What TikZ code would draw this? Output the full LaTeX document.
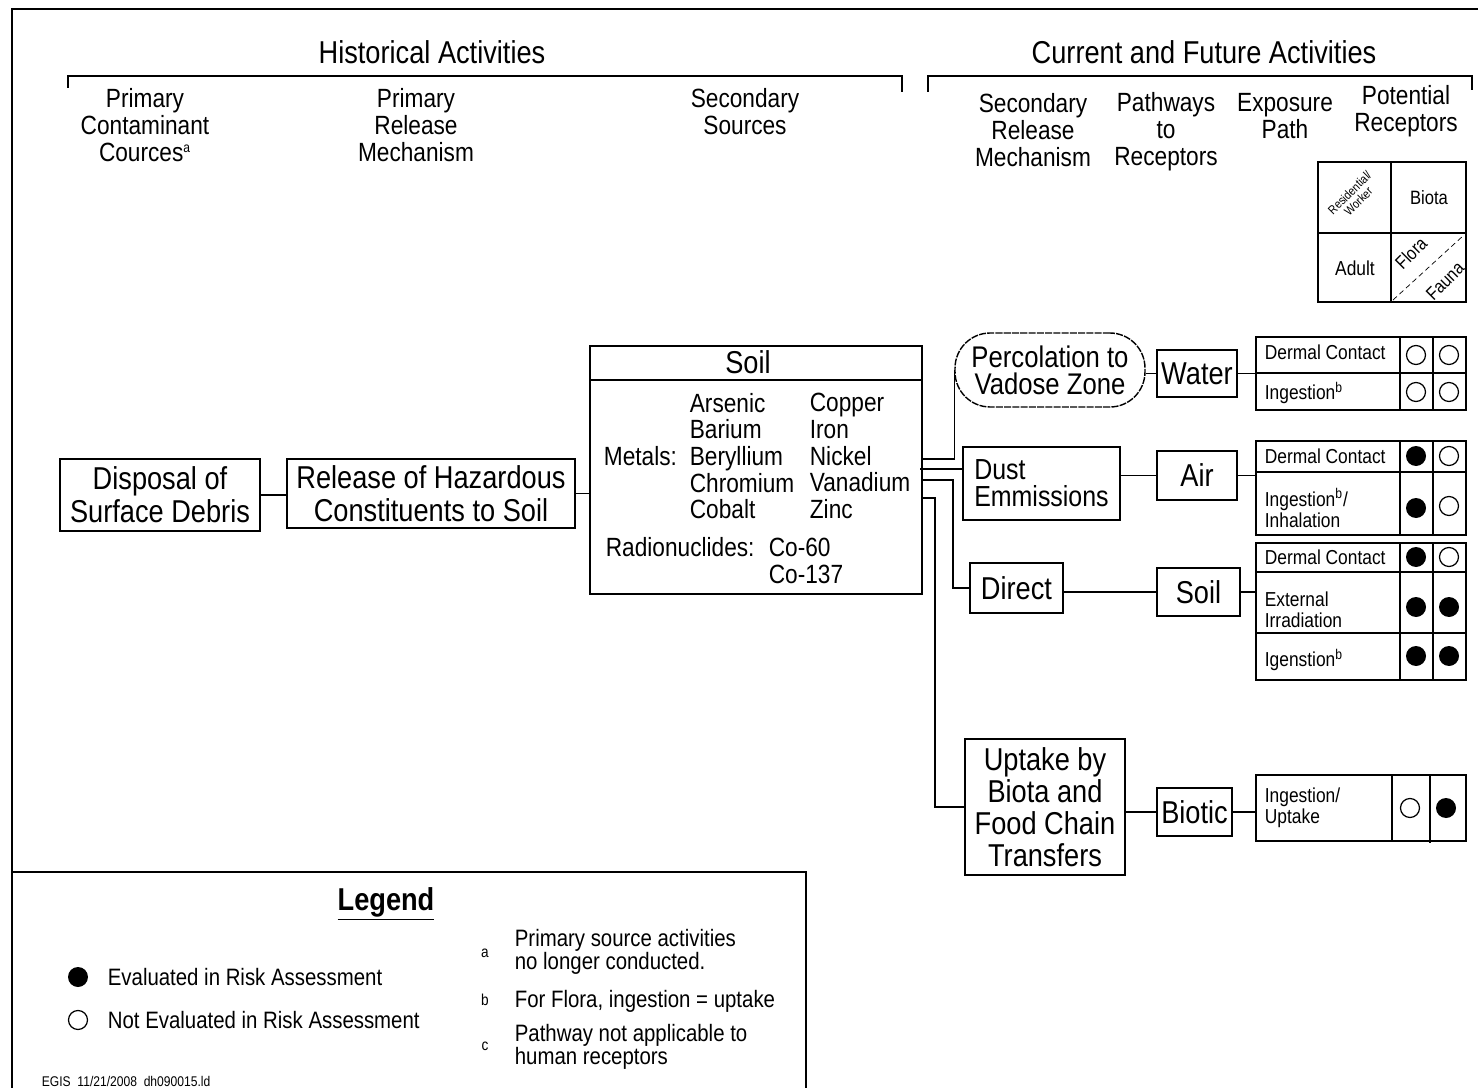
\documentclass[tikz,border=0pt]{standalone}
\usepackage{fontspec}
\setmainfont{Liberation Sans}[FakeStretch=0.86]
\usetikzlibrary{positioning}

\begin{document}
\begin{tikzpicture}[
  x=0.02cm, y=-0.02cm,
  every node/.style={inner sep=2pt},
  box/.style={draw, line width=0.9pt, align=center, font=\fontsize{18}{18.7}\selectfont},
  tabbox/.style={draw, line width=0.9pt, inner sep=0pt},
  hdr/.style={align=center, font=\fontsize{15}{15.3}\selectfont},
  big/.style={font=\fontsize{18}{19}\selectfont},
  list/.style={anchor=west, align=left, font=\fontsize{15}{15.2}\selectfont},
  cell/.style={anchor=west, align=left, font=\fontsize{11.5}{12}\selectfont},
  lgd/.style={anchor=west, align=left, font=\fontsize{13.5}{13}\selectfont},
  keytext/.style={inner sep=0pt, font=\fontsize{10.5}{10.5}\selectfont},
  link/.style={line width=0.9pt},
]
\useasboundingbox (0,0) rectangle (1478,1088);

%% Frame and legend box
\draw[line width=1.1pt] (12,1088) -- (12,9) -- (1478,9);
\draw[line width=1.1pt] (12,872) -- (806,872) -- (806,1088);

%% Section brackets
\draw[link] (68,88) -- (68,76) -- (902,76) -- (902,92);
\draw[link] (928,92) -- (928,76) -- (1472,76) -- (1472,90);
\node[big] (hist) at (432,52) {Historical Activities};
\node[big] (curr) at (1204,52) {Current and Future Activities};

%% Column headings
\node[hdr] (hpcs) at (145,125) {Primary\\Contaminant\\Cources\textsuperscript{\footnotesize a}};
\node[hdr] (hprm) at (416,125) {Primary\\Release\\Mechanism};
\node[hdr] (hss)  at (745,112) {Secondary\\Sources};
\node[hdr] (hsrm) at (1033,130) {Secondary\\Release\\Mechanism};
\node[hdr] (hptr) at (1166,132) {Pathways\\to\\Receptors};
\node[hdr] (hexp) at (1285,116) {Exposure\\Path};
\node[hdr] (hrec) at (1406,111) {Potential\\Receptors};

%% Receptor key
\node[tabbox, minimum width=2.96cm, minimum height=2.8cm] (key) at (1392,232) {};
\draw[link] (1391,162) -- (1391,302);
\draw[link] (1318,233) -- (1466,233);
\node[keytext, rotate=45, align=center, font=\fontsize{7}{7}\selectfont] (kres) at (1354,197) {Residential/\\Worker};
\node[keytext, font=\fontsize{11}{11}\selectfont] (kbio) at (1429,198) {Biota};
\node[keytext, font=\fontsize{11.5}{11.5}\selectfont] (kadu) at (1355,268) {Adult};
\draw[densely dashed, thin] (1393,300) -- (1464,235);
\node[keytext, rotate=45] (kflo) at (1411,253) {Flora};
\node[keytext, rotate=45] (kfau) at (1445,281) {Fauna};

%% Historical chain
\node[box, minimum width=4cm, minimum height=1.44cm] (disposal) at (160,495) {Disposal of\\Surface Debris};
\node[box, minimum width=5.76cm, minimum height=1.38cm] (release) at (431,493.5) {Release of Hazardous\\Constituents to Soil};
\node[box, minimum width=6.64cm, minimum height=4.96cm] (soilbox) at (756,470) {};
\draw[link] (590,380) -- (922,380);
\node[big] (soiltitle) at (748,362) {Soil};
\node[list] (metals) at (600,456) {Metals:};
\node[list] (meta) at (686,456) {Arsenic\\Barium\\Beryllium\\Chromium\\Cobalt};
\node[list] (metb) at (806,456) {Copper\\Iron\\Nickel\\Vanadium\\Zinc};
\node[list] (radio) at (602,547) {Radionuclides:};
\node[list] (radval) at (765,561) {Co-60\\Co-137};

\draw[link] (disposal.east) -- (disposal.east -| release.west);
\draw[link] (release.east) -- (release.east -| soilbox.west);

%% Secondary release mechanisms
\node[box, rounded corners=20pt, line width=0.8pt, dash pattern=on 4pt off 0.7pt, minimum width=3.8cm, minimum height=1.48cm,
      font=\fontsize{17}{15.5}\selectfont] (perc) at (1050,370) {Percolation to\\Vadose Zone};
\node[box, align=left, minimum width=3.14cm, minimum height=1.46cm,
      font=\fontsize{16.5}{15.5}\selectfont] (dust) at (1041.5,483.5) {Dust\\Emmissions};
\node[box, minimum width=1.86cm, minimum height=1.0cm] (direct) at (1016.5,588) {Direct};
\node[box, minimum width=3.2cm, minimum height=2.72cm, font=\fontsize{18}{18.3}\selectfont] (uptake) at (1045,807) {Uptake by\\Biota and\\Food Chain\\Transfers};

%% Pathways
\node[box, minimum width=1.6cm, minimum height=0.94cm] (water) at (1197,373.5) {Water};
\node[box, minimum width=1.6cm, minimum height=0.98cm] (air) at (1197,475.5) {Air};
\node[box, minimum width=1.66cm, minimum height=0.96cm] (soilpath) at (1198.5,592) {Soil};
\node[box, minimum width=1.5cm, minimum height=0.96cm] (biotic) at (1194.5,812) {Biotic};

%% Links out of the soil box
\coordinate (s1) at (922,459);
\coordinate (s2) at (920,469);
\coordinate (s3) at (922,480);
\coordinate (s4) at (922,498);
\draw[link] (s1) -| (perc.west);
\draw[link] (s2) -- (s2 -| dust.west);
\draw[link] (s3) -- ++(31,0) |- (direct.west);
\draw[link] (s4) -- ++(13,0) |- (uptake.west);

\draw[link] (water.west -| perc.east) -- (water.west);
\draw[link] (air.west -| dust.east) -- (air.west);
\draw[link] (soilpath.west -| direct.east) -- (soilpath.west);
\draw[link] (biotic.west -| uptake.east) -- (biotic.west);

%% Exposure path tables
\node[tabbox, minimum width=4.2cm, minimum height=1.46cm] (wtab) at (1361,373.5) {};
\node[tabbox, minimum width=4.2cm, minimum height=1.88cm] (atab) at (1361,488) {};
\node[tabbox, minimum width=4.2cm, minimum height=2.74cm] (stab) at (1361,611.5) {};
\node[tabbox, minimum width=4.2cm, minimum height=1.32cm] (btab) at (1361,808) {};

\draw[link] (water.east) -- (water.east -| wtab.west);
\draw[link] (air.east) -- (air.east -| atab.west);
\draw[link] (soilpath.east) -- (soilpath.east -| stab.west);
\draw[link] (biotic.east) -- (biotic.east -| btab.west);

%% table grid
\draw[link] (1400,337) -- (1400,410)  (1433,337) -- (1433,410)  (1256,373) -- (1466,373);
\draw[link] (1400,441) -- (1400,535)  (1433,441) -- (1433,535)  (1256,472) -- (1466,472);
\draw[link] (1400,543) -- (1400,680)  (1433,543) -- (1433,680)
            (1256,572) -- (1466,572)  (1256,633) -- (1466,633);
\draw[link] (1392,775) -- (1392,841)  (1430,775) -- (1430,843);

\node[cell] (w1) at (1261,352) {Dermal Contact};
\node[cell] (w2) at (1261,393) {Ingestion\textsuperscript{b}};
\node[cell] (a1) at (1261,456) {Dermal Contact};
\node[cell] (a2) at (1261,508) {Ingestion\textsuperscript{b}/\\Inhalation};
\node[cell] (t1) at (1261,557) {Dermal Contact};
\node[cell] (t2) at (1261,610) {External\\Irradiation};
\node[cell] (t3) at (1261,660) {Igenstion\textsuperscript{b}};
\node[cell] (b1) at (1261,808) {Ingestion/\\Uptake};

%% evaluated / not evaluated marks
\foreach \x/\y in {1416/456, 1416/508, 1416/557, 1416/607, 1449/607, 1416/656, 1449/656, 1446/808}
  \fill (\x,\y) circle[radius=0.2cm];
\foreach \x/\y in {1416/355, 1449/355, 1416/392, 1449/392, 1449/456, 1449/506, 1449/557, 1410/808}
  \draw[line width=0.7pt] (\x,\y) circle[radius=0.19cm];

%% Legend
\node[font=\bfseries\fontsize{18}{19}\selectfont] (lgdtitle) at (386,904) {\underline{Legend}};
\fill (78,977) circle[radius=0.2cm];
\draw[line width=0.7pt] (78,1020) circle[radius=0.19cm];
\node[lgd] (lgdeval) at (104,977) {Evaluated in Risk Assessment};
\node[lgd] (lgdnot) at (104,1020) {Not Evaluated in Risk Assessment};
\node[font=\fontsize{9}{9}\selectfont] (nta) at (485,953) {a};
\node[font=\fontsize{9}{9}\selectfont] (ntb) at (485,1000) {b};
\node[font=\fontsize{9}{9}\selectfont] (ntc) at (485,1046) {c};
\node[lgd] (lgda) at (511,952) {Primary source activities\\no longer conducted.};
\node[lgd] (lgdb) at (511,1001) {For Flora, ingestion = uptake};
\node[lgd] (lgdc) at (511,1047) {Pathway not applicable to\\human receptors};
\node[anchor=west, font=\fontsize{8}{8}\selectfont] (stamp) at (38,1081) {EGIS\ \ 11/21/2008\ \ dh090015.ld};

\end{tikzpicture}
\end{document}
